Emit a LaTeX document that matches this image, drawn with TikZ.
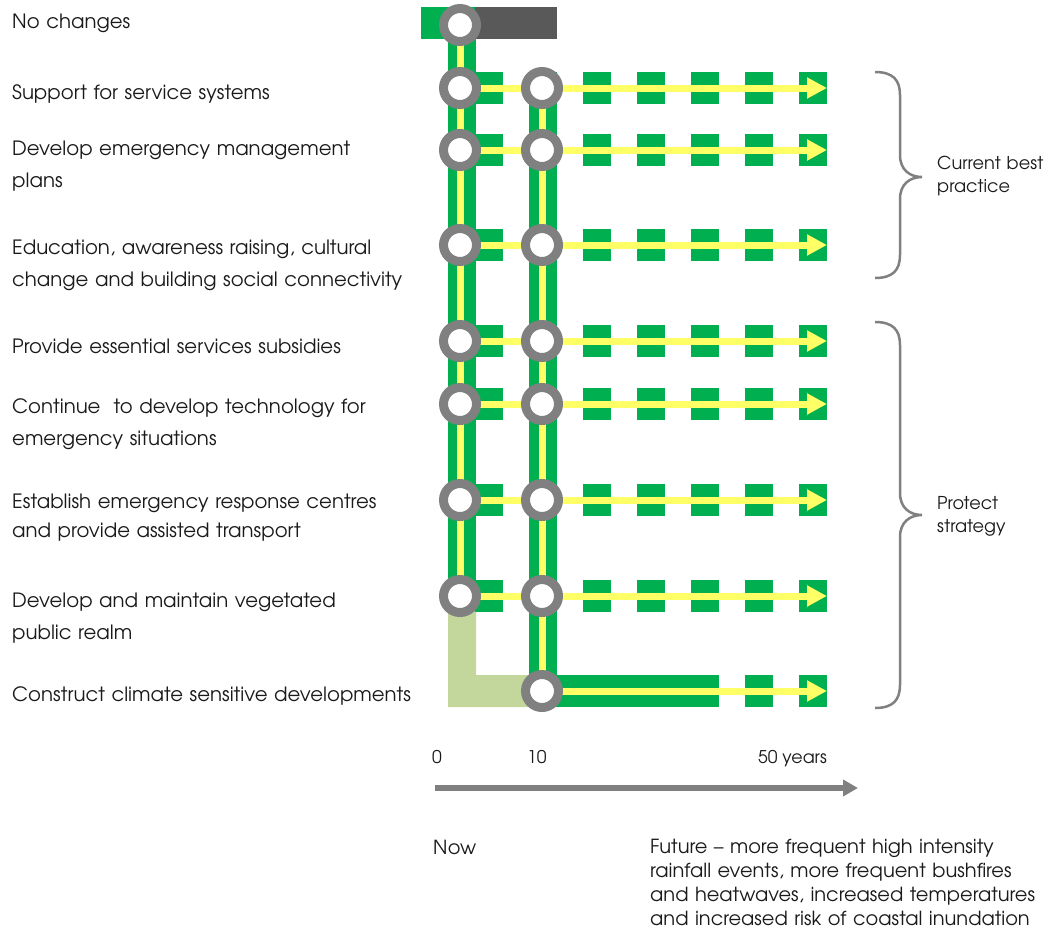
\documentclass[tikz,border=0pt]{standalone}
\usepackage{fontspec}
\setmainfont{TeX Gyre Adventor}
\usetikzlibrary{arrows.meta}
\definecolor{grn}{HTML}{00B050}
\definecolor{ylw}{HTML}{FFFF66}
\definecolor{ringgray}{HTML}{808080}
\definecolor{darkbar}{HTML}{595959}
\definecolor{lgrn}{HTML}{C3D69B}
\definecolor{txt}{HTML}{1A1A1A}
\begin{document}
\begin{tikzpicture}[x=1pt,y=-1pt,
  ring/.style={circle,draw=ringgray,line width=9pt,fill=white,minimum size=33pt,inner sep=0pt},
  gv/.style={draw=grn,line width=28pt},
  yv/.style={draw=ylw,line width=7pt},
  yarrow/.style={draw=ylw,line width=7pt,-{Triangle[length=20pt,width=20pt]}},
  gdash/.style={fill=grn},
  lbl/.style={anchor=base west,inner sep=0pt,text width=440pt,align=left,font=\fontsize{19.7}{32}\selectfont,text=txt},
  rlbl/.style={anchor=base west,inner sep=0pt,text width=120pt,align=left,font=\fontsize{17.7}{23}\selectfont,text=txt},
  tlbl/.style={anchor=base west,inner sep=0pt,font=\fontsize{17.5}{24}\selectfont,text=txt},
  futlbl/.style={anchor=base west,inner sep=0pt,text width=420pt,align=left,font=\fontsize{19.4}{24.3}\selectfont,text=txt},
  brace/.style={draw=ringgray,line width=2.5pt},
  axis/.style={draw=ringgray,line width=6pt,-{Triangle[length=15pt,width=16pt]}}]
\useasboundingbox (0,0) rectangle (1058,935);

% coordinates of the stations
\coordinate (a0) at (460,25);
\foreach \i/\y in {1/88,2/150,3/245,4/341,5/404,6/500,7/596}{
  \coordinate (a\i) at (460,\y);
  \coordinate (b\i) at (542,\y);
  \coordinate (e\i) at (827,\y);
}
\coordinate (b8) at (542,691);
\coordinate (e8) at (827,691);

% light green L
\fill[lgrn] (448,596) -- (476,596) -- (476,675) -- (542,675) -- (542,707) -- (448,707) -- cycle;

% top bar
\fill[grn] (421,7) rectangle (475,39);
\fill[darkbar] (475,7) rectangle (557,39);

% green verticals
\draw[gv] ([xshift=2pt]a0) -- ([xshift=2pt]a7);
\draw[gv] ([xshift=1pt]b1) -- ([xshift=1pt]b8);

% green dashes
\foreach \y in {88,150,245,341,404,500,596}{
  \foreach \k in {0,...,6}{
    \fill[gdash] ({475+54*\k},\y-16) rectangle ({503+54*\k},\y+16);
  }
}
\fill[gdash] (542,675) rectangle (719,707);
\fill[gdash] (745,675) rectangle (773,707);
\fill[gdash] (799,675) rectangle (827,707);

% yellow verticals
\draw[yv] (a0) -- (a7);
\draw[yv] (b1) -- (b8);

% yellow arrows
\foreach \i in {1,...,7}{
  \draw[yarrow] (a\i) -- (e\i);
}
\draw[yarrow] (b8) -- (e8);

% rings
\node[ring] (r0) at (a0) {};
\foreach \i in {1,...,7}{
  \node[ring] (ra\i) at (a\i) {};
  \node[ring] (rb\i) at (b\i) {};
}
\node[ring] (rb8) at (b8) {};

% labels
\node[lbl] (l0) at (12,28) {No changes};
\node[lbl] (l1) at (12,99) {Support for service systems};
\node[lbl] (l2) at (12,155) {Develop emergency management\\plans};
\node[lbl] (l3) at (12,254) {Education, awareness raising, cultural\\change and building social connectivity};
\node[lbl] (l4) at (12,353) {Provide essential services subsidies};
\node[lbl] (l5) at (12,413) {Continue\ \ to develop technology for\\emergency situations};
\node[lbl,font=\fontsize{19.7}{29}\selectfont] (l6) at (12,508) {Establish emergency response centres\\and provide assisted transport};
\node[lbl] (l7) at (12,607) {Develop and maintain vegetated\\public realm};
\node[lbl] (l8) at (12,701) {Construct climate sensitive developments};

% braces
\draw[brace] (875,72) .. controls (893,72) and (900,80) .. (900,95) -- (900,155)
  .. controls (900,170) and (910,177) .. (922,177)
  .. controls (910,177) and (900,184) .. (900,199) -- (900,255)
  .. controls (900,270) and (893,278) .. (875,278);
\draw[brace] (875,322) .. controls (893,322) and (900,330) .. (900,345) -- (900,493)
  .. controls (900,508) and (910,515) .. (922,515)
  .. controls (910,515) and (900,522) .. (900,537) -- (900,685)
  .. controls (900,700) and (893,708) .. (875,708);
\node[rlbl] (cb) at (937,169) {Current best\\practice};
\node[rlbl] (ps) at (937,509) {Protect\\strategy};

% timeline
\coordinate (tl) at (435,788);
\coordinate (tr) at (858,788);
\draw[axis] (tl) -- (tr);
\node[tlbl] (t0) at (432,763) {0};
\node[tlbl] (t10) at (527,763) {10};
\node[tlbl] (t50) at (758,763) {50 years};
\node[tlbl,font=\fontsize{19.4}{24}\selectfont] (now) at (433,854) {Now};
\node[futlbl] (fut) at (650,853) {Future -- more frequent high intensity\\rainfall events, more frequent bushfires\\and heatwaves, increased temperatures\\and increased risk of coastal inundation};
\end{tikzpicture}
\end{document}
